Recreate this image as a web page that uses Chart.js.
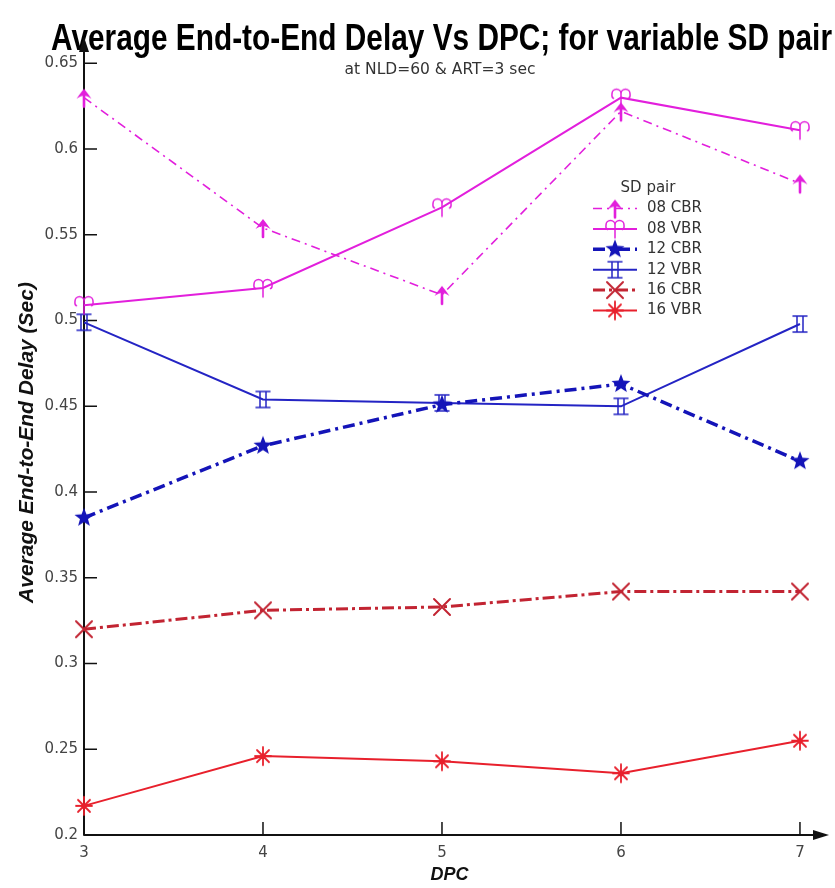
<!DOCTYPE html>
<html>
<head>
<meta charset="utf-8">
<title>Average End-to-End Delay Vs DPC</title>
<script src="https://cdn.jsdelivr.net/npm/chart.js@4.4.1/dist/chart.umd.min.js"></script>
<style>
    html, body { margin: 0; padding: 0; background: #fff; }
    #wrap { width: 835px; height: 888px; }
</style>
</head>
<body>
<div id="wrap"><canvas id="delayChart" width="835" height="888"></canvas></div>
<script>
// x values (DPC) and axis ticks
const dpc = [3, 4, 5, 6, 7];
const xTicks = [3, 4, 5, 6, 7];
const yTicks = [0.2, 0.25, 0.3, 0.35, 0.4, 0.45, 0.5, 0.55, 0.6, 0.65];
const yTickLabels = ['0.2', '0.25', '0.3', '0.35', '0.4', '0.45', '0.5', '0.55', '0.6', '0.65'];

// average end-to-end delay (sec), one array per SD pair
const cbr08 = [0.630, 0.554, 0.515, 0.622, 0.580];
const vbr08 = [0.509, 0.519, 0.566, 0.630, 0.611];
const cbr12 = [0.385, 0.427, 0.451, 0.463, 0.418];
const vbr12 = [0.499, 0.454, 0.452, 0.450, 0.498];
const cbr16 = [0.320, 0.331, 0.333, 0.342, 0.342];
const vbr16 = [0.217, 0.246, 0.243, 0.236, 0.255];
const seriesNames = ['08 CBR', '08 VBR', '12 CBR', '12 VBR', '16 CBR', '16 VBR'];

const MAGENTA = '#e21fdc';
const BLUE_DARK = '#1414b8';
const BLUE = '#2424c4';
const RED = '#e8202c';
const RED_DARK = '#c22432';

// little canvases used as point markers
function makeMarker(kind, color) {
    const c = document.createElement('canvas');
    c.width = 24;
    c.height = 24;
    const g = c.getContext('2d');
    g.translate(12, 12);
    g.strokeStyle = color;
    g.fillStyle = color;
    g.lineWidth = 1.6;
    g.lineCap = 'round';
    g.beginPath();

    if (kind === 'arrow') {
        g.lineWidth = 2.6;
        g.moveTo(0, 9); g.lineTo(0, -3); g.stroke();
        g.beginPath();
        g.moveTo(0, -9);
        g.quadraticCurveTo(4, -4, 7.5, 1);
        g.quadraticCurveTo(3, -2, 0, -2);
        g.quadraticCurveTo(-3, -2, -7.5, 1);
        g.quadraticCurveTo(-4, -4, 0, -9);
        g.fill();
    } else if (kind === 'aries') {
        g.lineWidth = 1.5;
        g.moveTo(0, 9); g.lineTo(0, -4);
        g.arc(-4.5, -4, 4.5, 0, Math.PI, true);
        g.quadraticCurveTo(-9.5, 0, -7.5, 0.5);
        g.moveTo(0, -4);
        g.arc(4.5, -4, 4.5, Math.PI, 0, false);
        g.quadraticCurveTo(9.5, 0, 7.5, 0.5);
        g.stroke();
    } else if (kind === 'star') {
        for (let i = 0; i < 10; i++) {
            const r = i % 2 ? 4.2 : 10;
            const a = -Math.PI / 2 + i * Math.PI / 5;
            g.lineTo(r * Math.cos(a), r * Math.sin(a));
        }
        g.closePath();
        g.fill();
    } else if (kind === 'ibeam') {
        g.lineWidth = 1.5;
        g.moveTo(-7, -8); g.lineTo(7, -8);
        g.moveTo(-7, 8); g.lineTo(7, 8);
        g.moveTo(-3, -8); g.lineTo(-3, 8);
        g.moveTo(3, -8); g.lineTo(3, 8);
        g.stroke();
    } else if (kind === 'cross') {
        g.lineWidth = 2;
        g.moveTo(-8, -8); g.lineTo(8, 8);
        g.moveTo(8, -8); g.lineTo(-8, 8);
        g.stroke();
    } else if (kind === 'asterisk') {
        g.lineWidth = 1.8;
        g.moveTo(0, -9); g.lineTo(0, 9);
        g.moveTo(-8, 0); g.lineTo(8, 0);
        g.moveTo(-6, -6); g.lineTo(6, 6);
        g.moveTo(6, -6); g.lineTo(-6, 6);
        g.stroke();
    }
    return c;
}

function points(values) {
    return dpc.map((x, i) => ({ x: x, y: values[i] }));
}

function series(i, values, color, width, dash, marker) {
    return {
        label: seriesNames[i],
        data: points(values),
        borderColor: color,
        backgroundColor: color,
        borderWidth: width,
        borderDash: dash,
        pointStyle: makeMarker(marker, color),
        pointRadius: 8,
        tension: 0,
        fill: false,
        clip: false
    };
}

// title, subtitle
const headerPlugin = {
    id: 'header',
    beforeDraw(chart) {
        const ctx = chart.ctx;
        ctx.save();
        ctx.fillStyle = '#fff';
        ctx.fillRect(0, 0, chart.width, chart.height);

        const text = 'Average End-to-End Delay Vs DPC; for variable SD pair';
        ctx.fillStyle = '#000';
        ctx.font = 'bold 37px "Liberation Sans", Arial, sans-serif';
        ctx.textBaseline = 'alphabetic';
        const w = ctx.measureText(text).width;
        ctx.translate(51, 50);
        ctx.scale(781 / w, 1);
        ctx.fillText(text, 0, 0);
        ctx.restore();

        ctx.save();
        ctx.fillStyle = '#333';
        ctx.font = '15.5px "DejaVu Sans", sans-serif';
        ctx.textAlign = 'center';
        ctx.textBaseline = 'middle';
        ctx.fillText('at NLD=60 & ART=3 sec', 440, 70);
        ctx.restore();
    }
};

// axes with arrow heads and inward tick marks
const axesPlugin = {
    id: 'arrowAxes',
    beforeDatasetsDraw(chart) {
        const { ctx, chartArea: a, scales } = chart;
        ctx.save();
        ctx.strokeStyle = '#111';
        ctx.fillStyle = '#111';
        ctx.lineWidth = 2;
        ctx.beginPath();
        ctx.moveTo(a.left, a.bottom); ctx.lineTo(a.left, a.top);
        ctx.moveTo(a.left, a.bottom); ctx.lineTo(a.right, a.bottom);
        ctx.stroke();

        ctx.beginPath();
        ctx.moveTo(a.left, a.top - 13);
        ctx.lineTo(a.left - 5, a.top + 2);
        ctx.lineTo(a.left + 5, a.top + 2);
        ctx.closePath();
        ctx.fill();
        ctx.beginPath();
        ctx.moveTo(a.right + 14, a.bottom);
        ctx.lineTo(a.right - 2, a.bottom - 5);
        ctx.lineTo(a.right - 2, a.bottom + 5);
        ctx.closePath();
        ctx.fill();

        ctx.lineWidth = 1.5;
        ctx.beginPath();
        yTicks.forEach(v => {
            const py = scales.y.getPixelForValue(v);
            ctx.moveTo(a.left, py); ctx.lineTo(a.left + 13, py);
        });
        xTicks.forEach(v => {
            const px = scales.x.getPixelForValue(v);
            ctx.moveTo(px, a.bottom + 1); ctx.lineTo(px, a.bottom - 13);
        });
        ctx.stroke();
        ctx.restore();
    }
};

// legend box placed inside the plot
const legendPlugin = {
    id: 'sdLegend',
    afterDatasetsDraw(chart) {
        const ctx = chart.ctx;
        const x0 = 593, x1 = 637, tx = 647;
        ctx.save();
        ctx.font = '15px "DejaVu Sans", sans-serif';
        ctx.fillStyle = '#333';
        ctx.textBaseline = 'middle';
        ctx.textAlign = 'center';
        ctx.fillText('SD pair', 648, 188);
        ctx.textAlign = 'left';

        chart.data.datasets.forEach((ds, i) => {
            const y = 208.5 + i * 20.4;
            ctx.save();
            ctx.strokeStyle = ds.borderColor;
            ctx.lineWidth = ds.borderWidth;
            ctx.setLineDash(ds.borderDash || []);
            ctx.beginPath();
            ctx.moveTo(x0, y); ctx.lineTo(x1, y);
            ctx.stroke();
            ctx.restore();
            const m = ds.pointStyle;
            ctx.drawImage(m, 615 - m.width / 2, y - m.height / 2);
            ctx.fillText(ds.label, tx, y);
        });
        ctx.restore();
    }
};

const tickFont = { family: '"DejaVu Sans", sans-serif', size: 15 };

new Chart(document.getElementById('delayChart'), {
    type: 'line',
    data: {
        datasets: [
            series(0, cbr08, MAGENTA, 1.6, [9, 5, 2, 5], 'arrow'),
            series(1, vbr08, MAGENTA, 2, [], 'aries'),
            series(2, cbr12, BLUE_DARK, 3.5, [12, 5, 3, 5], 'star'),
            series(3, vbr12, BLUE, 2, [], 'ibeam'),
            series(4, cbr16, RED_DARK, 3, [12, 4, 3, 4], 'cross'),
            series(5, vbr16, RED, 2, [], 'asterisk')
        ]
    },
    options: {
        responsive: false,
        animation: false,
        layout: { padding: { top: 50, right: 20, left: 0, bottom: 0 } },
        plugins: {
            legend: { display: false },
            tooltip: { enabled: false }
        },
        scales: {
            x: {
                type: 'linear',
                min: 3,
                max: 7.084,
                afterBuildTicks: s => { s.ticks = xTicks.map(v => ({ value: v })); },
                afterFit: s => { s.height = 53; },
                grid: { display: false, drawTicks: false },
                border: { display: false },
                ticks: { padding: 9, color: '#444', font: tickFont, callback: v => String(v) },
                title: {
                    display: true,
                    text: 'DPC',
                    color: '#111',
                    font: { family: '"Liberation Sans", Arial, sans-serif', size: 18, weight: 'bold', style: 'italic' },
                    padding: { top: 0, bottom: 2 }
                }
            },
            y: {
                type: 'linear',
                min: 0.2,
                max: 0.6578,
                afterBuildTicks: s => { s.ticks = yTicks.map(v => ({ value: v })); },
                afterFit: s => { s.width = 84; },
                grid: { display: false, drawTicks: false },
                border: { display: false },
                ticks: { padding: 6, color: '#444', font: tickFont, callback: (v, i) => yTickLabels[i] },
                title: {
                    display: true,
                    text: 'Average End-to-End Delay (Sec)',
                    color: '#111',
                    font: { family: '"Liberation Sans", Arial, sans-serif', size: 21, weight: 'bold', style: 'italic' },
                    padding: { top: 15, bottom: 0 }
                }
            }
        }
    },
    plugins: [headerPlugin, axesPlugin, legendPlugin]
});
</script>
</body>
</html>
